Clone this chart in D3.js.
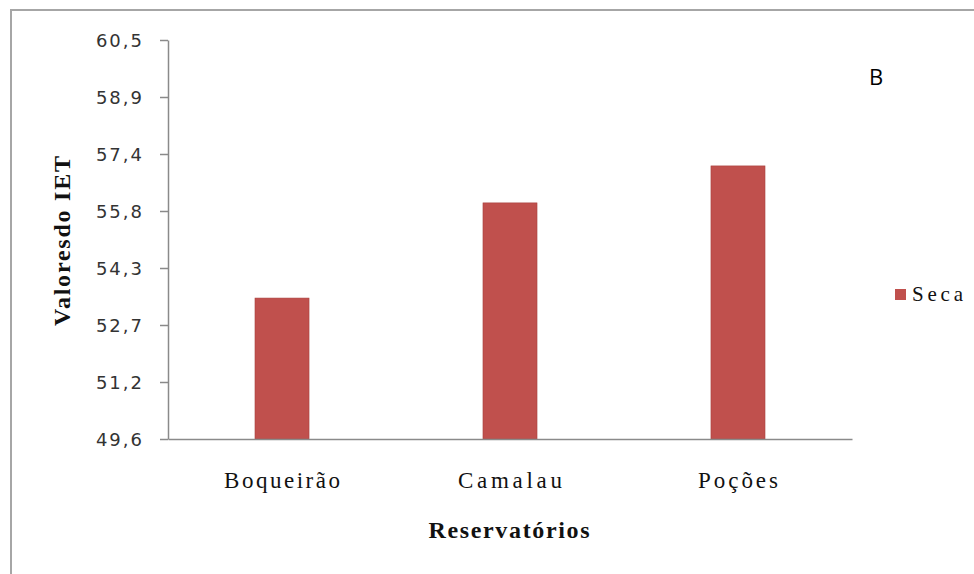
<!DOCTYPE html>
<html><head><meta charset="utf-8">
<script src="https://cdn.jsdelivr.net/npm/d3@7"></script>
<style>body{margin:0;background:#fff}svg{display:block}</style>
</head><body>
<svg id="c" width="974" height="574"></svg>
<script>
const categories = ["Boqueirão", "Camalau", "Poções"];
const seriesName = "Seca";
const secaValues = [53.45, 56.05, 57.06];
const tickLabels = ["49,6", "51,2", "52,7", "54,3", "55,8", "57,4", "58,9", "60,5"];
const yMin = 49.6, yMax = 60.5;
const yTitle = "Valoresdo IET";
const xTitle = "Reservatórios";
const panelLabel = "B";

const svg = d3.select("#c");
const barColor = "#c0504d";
const axisColor = "#8a8a8a";

// outer frame (top & left visible)
svg.append("rect").attr("x", 11).attr("y", 10).attr("width", 990).attr("height", 600)
  .attr("fill", "none").attr("stroke", "#a6a6a6").attr("stroke-width", 2);

const x = d3.scaleBand().domain(categories).range([168, 852])
  .paddingInner(0.763).paddingOuter(0.3816);
const y = d3.scaleLinear().domain([yMin, yMax]).range([439, 40]);

const tickVals = tickLabels.map((t, i) => yMin + i * (yMax - yMin) / (tickLabels.length - 1));

// y axis
const gy = svg.append("g").attr("transform", "translate(168,0)")
  .call(d3.axisLeft(y).tickValues(tickVals).tickSize(8).tickSizeOuter(0).tickPadding(16)
    .tickFormat((d, i) => tickLabels[i]));
gy.select(".domain").attr("stroke", axisColor).attr("stroke-width", 1.5);
gy.selectAll(".tick line").attr("stroke", axisColor).attr("stroke-width", 1.5);
gy.selectAll(".tick text").attr("font-family", "DejaVu Sans").attr("font-size", 18)
  .attr("fill", "#333").attr("letter-spacing", 2).attr("dy", "0.38em");

// bars
svg.append("g").selectAll("rect").data(secaValues).join("rect")
  .attr("x", (d, i) => x(categories[i]))
  .attr("y", d => y(d))
  .attr("width", x.bandwidth())
  .attr("height", d => y(yMin) - y(d))
  .attr("fill", barColor).attr("stroke", "#a8403d").attr("stroke-width", 0.6);

// x axis
const gx = svg.append("g").attr("transform", "translate(0,439)")
  .call(d3.axisBottom(x).tickSize(0).tickSizeOuter(0).tickPadding(0));
gx.select(".domain").attr("stroke", axisColor).attr("stroke-width", 1.5);
const widths = {"Boqueirão": 116, "Camalau": 104, "Poções": 80};
gx.selectAll(".tick text").attr("font-family", "Liberation Serif").attr("font-size", 23)
  .attr("fill", "#111").attr("y", 49).attr("dy", 0)
  .attr("textLength", d => widths[d]).attr("lengthAdjust", "spacing");

// axis titles
svg.append("text").attr("x", 509).attr("y", 538).attr("text-anchor", "middle")
  .attr("font-family", "Liberation Serif").attr("font-weight", "bold").attr("font-size", 24)
  .attr("fill", "#111").attr("textLength", 161).attr("lengthAdjust", "spacing").text(xTitle);

svg.append("text").attr("transform", "translate(70,241) rotate(-90)").attr("text-anchor", "middle")
  .attr("font-family", "Liberation Serif").attr("font-weight", "bold").attr("font-size", 24)
  .attr("fill", "#111").attr("textLength", 170).attr("lengthAdjust", "spacing").text(yTitle);

// legend
svg.append("rect").attr("x", 895).attr("y", 289).attr("width", 11).attr("height", 11).attr("fill", barColor);
svg.append("text").attr("x", 912).attr("y", 301).attr("font-family", "Liberation Serif").attr("font-size", 21)
  .attr("fill", "#111").attr("textLength", 51).attr("lengthAdjust", "spacing").text(seriesName);

// panel label
svg.append("text").attr("x", 869).attr("y", 85).attr("font-family", "Open Sans").attr("font-size", 22)
  .attr("fill", "#000").text(panelLabel);
</script>
</body></html>
